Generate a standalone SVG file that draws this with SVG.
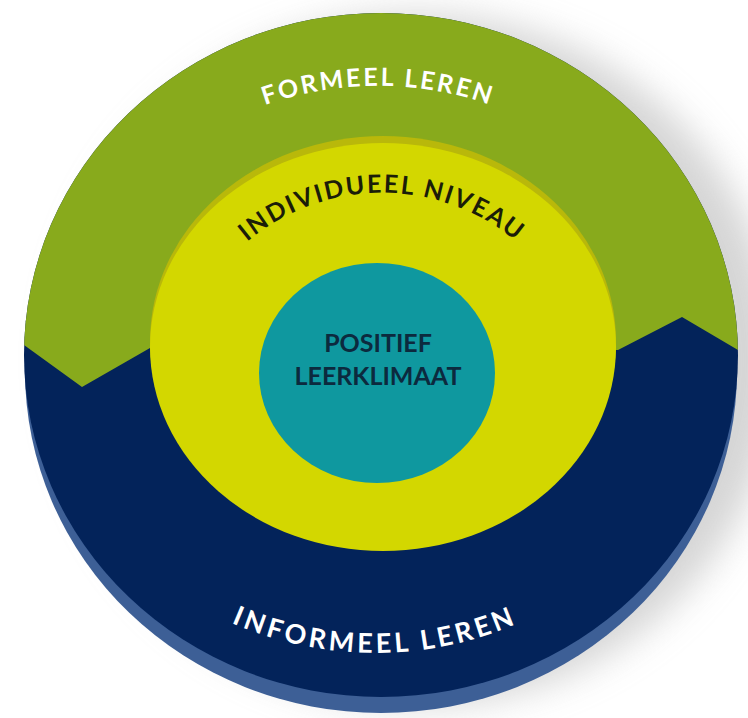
<svg xmlns="http://www.w3.org/2000/svg" width="748" height="718" viewBox="0 0 748 718">
  <style>
    .lbl { font-family: Lato, "Open Sans", "DejaVu Sans", sans-serif; font-weight: 700; }
    .white { fill: #ffffff; }
    .dark { fill: #1b1d08; }
    .navytxt { fill: #0c2a3e; }
  </style>
  <defs>
    <filter id="blur" x="-20%" y="-20%" width="140%" height="140%">
      <feGaussianBlur stdDeviation="18"/>
    </filter>
    <clipPath id="topClip">
      <polygon points="0,0 748,0 748,356 738,350 682,317 618,350 383,350 150,348 82,387 24,345 0,328"/>
    </clipPath>
    <path id="arcFormeel" d="M 138 185 A 340 340 0 0 1 618 185"/>
    <path id="arcIndividueel" d="M 200 298 A 210 210 0 0 1 564 298"/>
    <path id="arcInformeel" d="M 99 524 A 360 360 0 0 0 651 524"/>
  </defs>

  <rect width="748" height="718" fill="#ffffff"/>

  <!-- drop shadow -->
  <ellipse cx="418" cy="360" rx="360" ry="346" fill="#b4b4b4" opacity="0.55" filter="url(#blur)"/>

  <g id="outer-ring">
    <ellipse cx="381" cy="371" rx="356" ry="342" fill="#3d5f96"/>
    <ellipse cx="381" cy="355" rx="357" ry="342" fill="#03235a"/>
    <ellipse cx="381" cy="355" rx="357" ry="342" fill="#88aa1c" clip-path="url(#topClip)"/>
  </g>

  <g id="formeel-leren">
    <text class="lbl white" font-size="25" letter-spacing="2.5"><textPath href="#arcFormeel" startOffset="50%" text-anchor="middle">FORMEEL LEREN</textPath></text>
  </g>

  <g id="informeel-leren">
    <text class="lbl white" font-size="27" letter-spacing="3.5"><textPath href="#arcInformeel" startOffset="50%" text-anchor="middle">INFORMEEL LEREN</textPath></text>
  </g>

  <g id="individueel-niveau">
    <ellipse cx="383" cy="341" rx="233" ry="205" fill="#b9b80a"/>
    <ellipse cx="383" cy="347" rx="233" ry="204" fill="#d3d700"/>
    <text class="lbl dark" font-size="25" letter-spacing="2"><textPath href="#arcIndividueel" startOffset="50%" text-anchor="middle">INDIVIDUEEL NIVEAU</textPath></text>
  </g>

  <g id="positief-leerklimaat">
    <ellipse cx="377" cy="373" rx="118" ry="110" fill="#0f989f"/>
    <text class="lbl navytxt" font-size="25" text-anchor="middle" x="378" y="352">POSITIEF</text>
    <text class="lbl navytxt" font-size="25" text-anchor="middle" x="378" y="385">LEERKLIMAAT</text>
  </g>
</svg>
